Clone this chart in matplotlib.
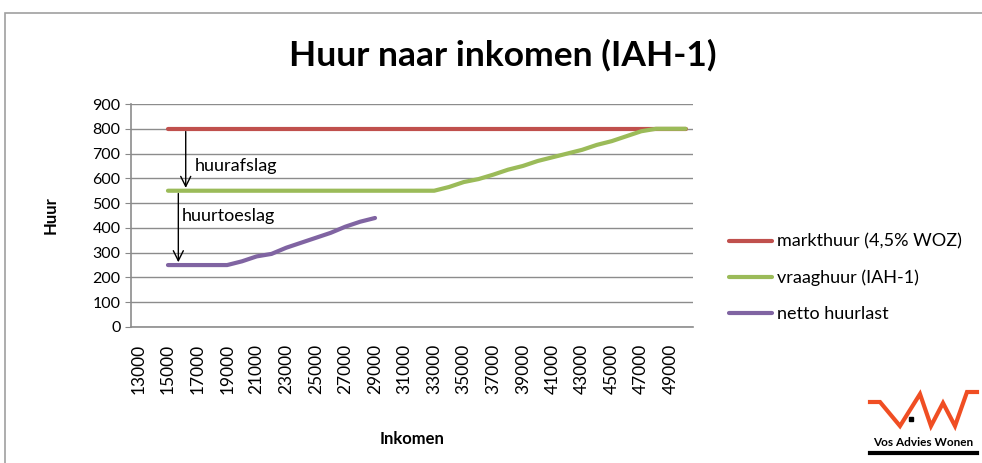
import matplotlib.pyplot as plt
from matplotlib.patches import Rectangle

plt.rcParams['font.family'] = ['Lato', 'DejaVu Sans']

# inkomen categories (13000 .. 50000)
inkomen = list(range(13000, 50001, 1000))

markthuur = [None, None] + [800] * 36
vraaghuur = [None, None] + [550] * 19 + [565, 585, 597, 615, 635, 650, 670, 685, 700,
                                         715, 735, 750, 770, 790, 800, 800, 800]
netto = [None, None] + [250, 250, 250, 250, 250, 265, 285, 295, 320, 340, 360, 380, 405, 425, 440] + [None] * 21

series_names = ['markthuur (4,5% WOZ)', 'vraaghuur (IAH-1)', 'netto huurlast']
series_colors = ['#C0504D', '#9BBB59', '#8064A2']

W, H = 982, 463
fig = plt.figure(figsize=(W / 100, H / 100), dpi=100)
ax = fig.add_axes([131 / W, 1 - 327 / H, (693 - 131) / W, (327 - 104) / H])

# chart frame
fig.add_artist(Rectangle((5 / W, -0.1), 1.1, 1 - 13 / H + 0.1, transform=fig.transFigure,
                         fill=False, edgecolor='#A0A0A0', linewidth=1.2))

x = list(range(len(inkomen)))
for vals, name, col in zip([markthuur, vraaghuur, netto], series_names, series_colors):
    xs = [i for i, v in zip(x, vals) if v is not None]
    ys = [v for v in vals if v is not None]
    ax.plot(xs, ys, color=col, linewidth=3, label=name, solid_capstyle='round')

ax.set_xlim(-0.5, len(inkomen) - 0.5)
ax.set_ylim(0, 900)
ax.set_yticks(range(0, 901, 100))
ax.set_xticks(x[::2])
ax.set_xticklabels([str(v) for v in inkomen[::2]], rotation=90, fontsize=12.5)
ax.tick_params(axis='y', labelsize=11.5, length=4, color='#888888')
ax.tick_params(axis='x', length=0, pad=12)
ax.grid(axis='y', color='#8C8C8C', linewidth=1)
ax.set_axisbelow(True)
for s in ['top', 'right']:
    ax.spines[s].set_visible(False)
for s in ['left', 'bottom']:
    ax.spines[s].set_color('#8C8C8C')
    ax.spines[s].set_linewidth(1.2)

# arrows + labels
ax.annotate('', xy=(3.2, 550), xytext=(3.2, 800),
            arrowprops=dict(arrowstyle='->', color='black', lw=1, mutation_scale=18))
ax.annotate('', xy=(2.7, 250), xytext=(2.7, 550),
            arrowprops=dict(arrowstyle='->', color='black', lw=1, mutation_scale=18))
ax.text(3.8, 650, 'huurafslag', fontsize=13, va='center')
ax.text(2.9, 450, 'huurtoeslag', fontsize=13, va='center')

fig.text(503 / W, 1 - 55 / H, 'Huur naar inkomen (IAH-1)', fontsize=25.5, fontweight='bold',
         ha='center', va='center')
ax.set_ylabel('Huur', fontsize=12, fontweight='bold', labelpad=24)
ax.set_xlabel('Inkomen', fontsize=12, fontweight='bold', labelpad=27)

ax.legend(loc='center left', bbox_to_anchor=(1.035, 0.22), frameon=False, fontsize=13,
          handlelength=2.4, handletextpad=0.25, labelspacing=1.1)

# logo (pixel coordinates)
lax = fig.add_axes([860 / W, 0, 122 / W, 83 / H])
lax.set_xlim(860, 982)
lax.set_ylim(463, 380)
lax.axis('off')
lax.plot([870, 880, 900, 920, 931, 943, 955, 967, 977], [402, 402, 426, 394, 426, 403, 426, 392, 392],
         color='#F04E23', linewidth=3, solid_joinstyle='miter')
lax.plot([911], [419], marker='s', color='black', markersize=3)
lax.text(923, 443, 'Vos Advies Wonen', fontsize=8.5, fontweight='bold', ha='center', va='center')
lax.plot([870, 977], [453, 453], color='black', linewidth=3)

fig.savefig('out.png', dpi=100)
